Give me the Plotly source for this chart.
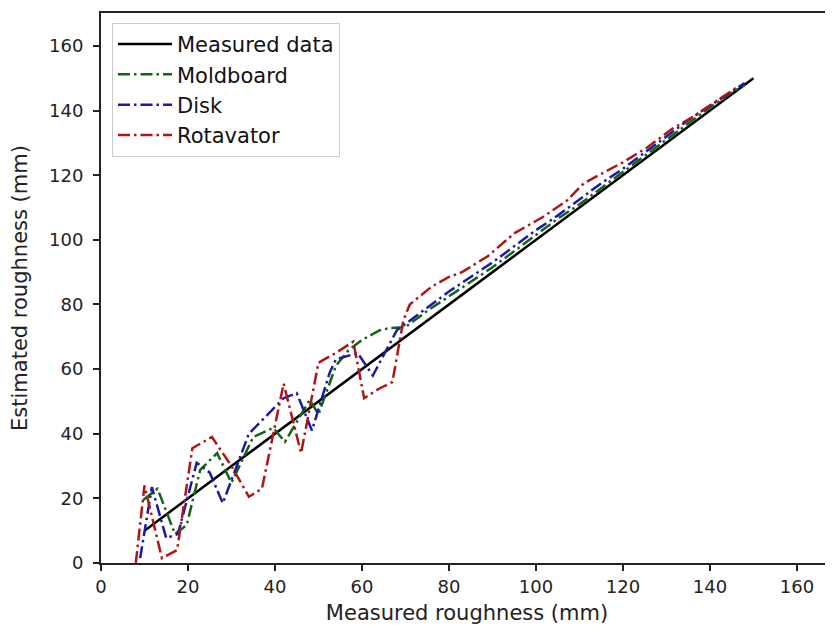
import plotly.graph_objects as go

# ---- data ----
measured_x = [10, 150]
measured_y = [10, 150]

moldboard_x = [9.7, 13, 17, 19.7, 22.8, 26.7, 30, 35, 39.6, 42.3, 48, 50, 54, 57, 60, 64, 66.4, 70, 75, 80, 85, 90, 95, 100, 105, 110, 115, 120, 125, 130, 135, 140, 145, 148]
moldboard_y = [19.5, 23, 9, 11.7, 28.8, 34, 24.8, 39, 41.8, 37.5, 50.5, 46, 61, 66, 69, 72, 72.7, 73, 78, 82.5, 87, 91.5, 96.5, 101.5, 106.5, 111, 116, 121, 126, 131, 136, 141, 145.5, 148]

disk_x = [9, 11.7, 15, 17.7, 22, 25, 28, 34, 42, 45, 48.5, 52.6, 54, 59, 62.5, 68, 70, 75, 80, 85, 90, 95, 100, 105, 110, 115, 120, 125, 130, 135, 140, 145, 148]
disk_y = [1.5, 23.5, 7.7, 9, 31, 28, 18.5, 40, 51, 52.6, 41, 59, 63, 65, 58, 72, 74, 79, 84, 88.5, 93, 98, 103, 107.5, 112.5, 117.5, 122, 127, 132, 137, 141.5, 146, 148.5]

rotavator_x = [8, 10, 14, 17.5, 21, 25.5, 30, 34, 37, 42, 46, 50, 54, 58, 60.5, 64, 67, 69.5, 71, 76, 80, 83, 89, 95, 101.5, 107, 111, 116, 120, 125.5, 131.5, 136, 141, 146]
rotavator_y = [0, 24, 1.5, 4, 35.5, 39, 30, 20.5, 23, 55.5, 34, 62, 65, 68.5, 51, 54, 56, 75, 80, 85.5, 88.5, 90, 95, 102, 107, 112, 117.5, 121, 124, 128.5, 134.5, 138, 142.5, 147]

x_ticks = [0, 20, 40, 60, 80, 100, 120, 140, 160]
y_ticks = [0, 20, 40, 60, 80, 100, 120, 140, 160]

DASHDOT = "12px,4px,2.5px,4px"
FONT = "DejaVu Sans, Liberation Sans, sans-serif"

fig = go.Figure()
fig.add_trace(go.Scatter(x=measured_x, y=measured_y, mode="lines", name="Measured data",
                         line=dict(color="#000000", width=2.5)))
fig.add_trace(go.Scatter(x=moldboard_x, y=moldboard_y, mode="lines", name="Moldboard",
                         line=dict(color="#136413", width=2.5, dash=DASHDOT)))
fig.add_trace(go.Scatter(x=disk_x, y=disk_y, mode="lines", name="Disk",
                         line=dict(color="#1a1aa8", width=2.5, dash=DASHDOT)))
fig.add_trace(go.Scatter(x=rotavator_x, y=rotavator_y, mode="lines", name="Rotavator",
                         line=dict(color="#b01414", width=2.5, dash=DASHDOT)))

fig.update_layout(
    width=825, height=621,
    margin=dict(l=93, r=0, t=5, b=66, autoexpand=False),
    paper_bgcolor="white", plot_bgcolor="white",
    font=dict(family=FONT, size=17.5, color="#222222"),
    showlegend=True,
    legend=dict(x=0.015, y=0.982, xanchor="left", yanchor="top",
                bgcolor="rgba(255,255,255,0.9)", bordercolor="#cccccc", borderwidth=1,
                font=dict(size=21, color="#111111"), tracegroupgap=0, itemwidth=54),
)
fig.update_xaxes(range=[0, 168.3], tickvals=x_ticks, ticks="outside", ticklen=6, tickwidth=1.5,
                 tickcolor="#222222", showline=True, linecolor="#222222", linewidth=2, mirror=True,
                 showgrid=False, zeroline=False, automargin=False, tickfont=dict(size=18),
                 title=dict(text="Measured roughness (mm)", standoff=10))
fig.update_yaxes(range=[0, 170.2], tickvals=y_ticks, ticks="outside", ticklen=6, tickwidth=1.5,
                 tickcolor="#222222", showline=True, linecolor="#222222", linewidth=2, mirror=False,
                 showgrid=False, zeroline=False, automargin=False, tickfont=dict(size=18),
                 ticklabelstandoff=6,
                 title=dict(text="Estimated roughness (mm)", standoff=21))

fig.write_html("out.html")
